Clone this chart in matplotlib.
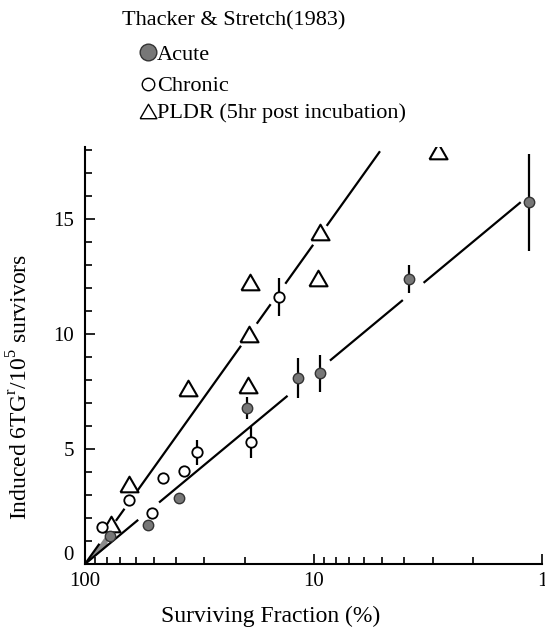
import numpy as np
import matplotlib
matplotlib.use("Agg")
import matplotlib.pyplot as plt
from matplotlib.lines import Line2D
from matplotlib.ticker import FixedLocator, LogLocator, NullFormatter
from matplotlib.transforms import ScaledTranslation

plt.rcParams['font.family'] = ['Liberation Serif', 'DejaVu Serif']
plt.rcParams['mathtext.fontset'] = 'custom'
plt.rcParams['mathtext.rm'] = 'Liberation Serif'

# surviving fraction (%) and induced mutants per 10^5 survivors
acute_sf = [77.8, 53, 38.8, 19.5, 11.7, 9.37, 3.81, 1.135]
acute_y = [1.23, 1.7, 2.87, 6.78, 8.09, 8.29, 12.39, 15.73]
acute_err = [0, 0, 0, 0.47, 0.87, 0.8, 0.6, 2.1]

chronic_sf = [84.6, 64.3, 50.7, 45.6, 36.9, 32.3, 18.7, 14.1]
chronic_y = [1.6, 2.78, 2.2, 3.74, 4.03, 4.86, 5.32, 11.6]
chronic_err = [0, 0, 0, 0, 0, 0.55, 0.69, 0.83]

pldr_sf = [76.6, 64.3, 35.5, 19.4, 19.1, 18.97, 9.6, 9.4, 2.86]
pldr_y = [1.74, 3.48, 7.64, 7.78, 10.0, 12.27, 12.43, 14.42, 17.97]

# fitted lines: y = slope * log10(100 / SF), drawn in pieces
acute_slope = 8.25
acute_pieces = [(100, 59), (47, 13.1), (8.4, 4.1), (3.27, 1.25)]
upper_slope = 13.9
upper_pieces = [(100, 87), (72.8, 67.6), (58.8, 20.9), (17.6, 15.5),
                (13.2, 10.1), (8.7, 5.15)]


def fit(sf, slope):
    return slope * np.log10(100.0 / np.asarray(sf))


fig = plt.figure(figsize=(5.45, 6.33), dpi=100)
ax = fig.add_axes([85 / 545, 69 / 633, 457 / 545, 417 / 633])

ax.set_xscale('log')
ax.set_xlim(100, 1)
ax.set_ylim(0, 18.13)

# shaded wedge between the two lines near the origin
wsf = np.geomspace(100, 80, 20)
ax.fill_between(wsf, fit(wsf, acute_slope), fit(wsf, upper_slope),
                color='#8a8a8a', lw=0, zorder=1)

for a, b in acute_pieces:
    s = np.geomspace(a, b, 30)
    ax.plot(s, fit(s, acute_slope), color='black', lw=1.6, zorder=2)
for a, b in upper_pieces:
    s = np.geomspace(a, b, 30)
    ax.plot(s, fit(s, upper_slope), color='black', lw=1.6, zorder=2)

ax.errorbar(acute_sf, acute_y, yerr=acute_err, fmt='none', ecolor='black',
            elinewidth=1.6, capsize=0, zorder=3)
ax.errorbar(chronic_sf, chronic_y, yerr=chronic_err, fmt='none', ecolor='black',
            elinewidth=1.6, capsize=0, zorder=3)

tri = [(-1, -0.866), (1, -0.866), (0, 0.866), (-1, -0.866)]
ax.plot(pldr_sf, pldr_y, ls='none', marker=tri, ms=13, mfc='white',
        mec='black', mew=1.5, zorder=4)
ax.plot(chronic_sf, chronic_y, ls='none', marker='o', ms=7.5, mfc='white',
        mec='black', mew=1.3, zorder=4)
ax.plot(acute_sf, acute_y, ls='none', marker='o', ms=7.5, mfc='#777777',
        mec='#333333', mew=1.0, zorder=4)

for side in ('top', 'right'):
    ax.spines[side].set_visible(False)
for side in ('left', 'bottom'):
    ax.spines[side].set_linewidth(1.5)

ax.xaxis.set_major_locator(FixedLocator([100, 10, 1]))
ax.set_xticklabels(['100', '10', '1'])
ax.xaxis.set_minor_locator(LogLocator(base=10, subs=np.arange(2, 10)))
ax.xaxis.set_minor_formatter(NullFormatter())
ax.set_yticks([0, 5, 10, 15])
ax.set_yticks(np.arange(0, 19), minor=True)

ax.tick_params(which='both', direction='in', width=1.2, labelsize=15)
ax.tick_params(which='major', length=7)
ax.tick_params(which='minor', length=5)
ax.tick_params(axis='x', pad=6)
ax.tick_params(axis='y', pad=8)

# lift the zero label clear of the "100" below it
zero = ax.get_yticklabels()[0]
zero.set_transform(zero.get_transform() +
                   ScaledTranslation(0, 8 / 72, fig.dpi_scale_trans))

ax.set_xlabel('Surviving Fraction (%)', fontsize=17, va='center')
ax.xaxis.set_label_coords((271 - 85) / 457, (564 - 616) / 417)
ax.set_ylabel(r'Induced 6TG$^{\mathrm{r}}$/10$^{5}$ survivors', fontsize=17,
              va='center')
ax.yaxis.set_label_coords((20 - 85) / 457, (564 - 387) / 417)

# header and key
fig.text(122 / 545, 1 - 25 / 633, 'Thacker & Stretch(1983)', fontsize=16,
         va='baseline', ha='left')
key = [
    ('o', 12, '#777777', '#333333', 'Acute', 52, 60),
    ('o', 9, 'white', 'black', 'Chronic', 84, 91),
    (tri, 12, 'white', 'black', 'PLDR (5hr post incubation)', 111, 118),
]
for mk, ms, fc, ec, label, my, ty in key:
    fig.add_artist(Line2D([148 / 545], [1 - my / 633], marker=mk, ms=ms,
                          mfc=fc, mec=ec, mew=1.0, ls='none',
                          transform=fig.transFigure))
    fig.text(157 / 545, 1 - ty / 633, label, fontsize=16, va='baseline',
             ha='left')

fig.savefig('out.png', dpi=100)
